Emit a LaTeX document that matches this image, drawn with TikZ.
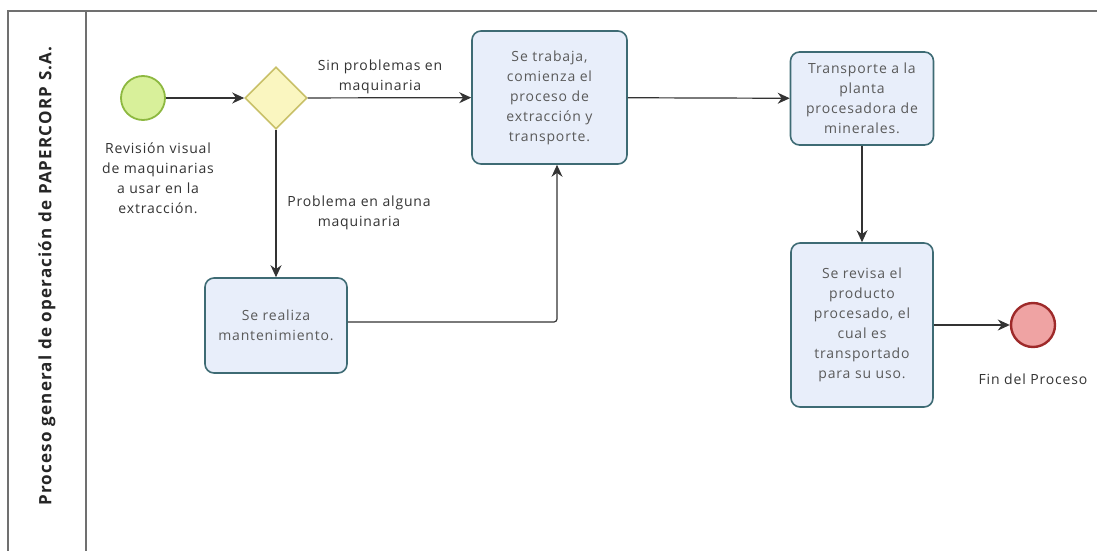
\documentclass[tikz,border=0pt]{standalone}
\usepackage{fontspec}
\setmainfont{Open Sans}
\newfontfamily\wideopen[LetterSpace=6]{Open Sans}
\newfontfamily\wideopenbold[LetterSpace=7]{Open Sans Bold}
\usetikzlibrary{shapes.geometric,arrows.meta}
\definecolor{taskfill}{HTML}{E8EEFA}
\definecolor{taskdraw}{HTML}{3E6B74}
\definecolor{taskText}{HTML}{5A5A5A}
\definecolor{lblText}{HTML}{333333}
\definecolor{startfill}{HTML}{D8F09A}
\definecolor{startdraw}{HTML}{8DB840}
\definecolor{gwfill}{HTML}{FAF6C0}
\definecolor{gwdraw}{HTML}{C9C068}
\definecolor{endfill}{HTML}{EFA3A3}
\definecolor{enddraw}{HTML}{9E2A2A}
\definecolor{poolline}{HTML}{707070}
\begin{document}
\begin{tikzpicture}[x=1pt,y=-1pt,
  task/.style={draw=taskdraw,fill=taskfill,line width=1.6pt,rounded corners=9pt,
    text=taskText,align=center,font=\wideopen\fontsize{14}{20}\selectfont,inner sep=0pt},
  lbl/.style={text=lblText,align=center,font=\wideopen\fontsize{14}{20}\selectfont,inner sep=0pt},
  flow/.style={draw=black!80,line width=1.2pt,-{Stealth[length=12pt,width=11pt]}},
  pool/.style={draw=poolline,line width=1.3pt}]
\useasboundingbox (0,0) rectangle (1097,551);
% pool
\draw[pool] (8,560) -- (8,11) -- (1100,11);
\draw[pool] (86,11) -- (86,560);
\node[rotate=90,font=\wideopenbold\fontsize{17}{20}\selectfont,text=black!85] (pooltitle) at (47,276) {Proceso general de operación de PAPERCORP S.A.};
% start
\node[circle,draw=startdraw,fill=startfill,line width=1.8pt,minimum size=44pt,inner sep=0pt] (start) at (143,98) {};
\node[lbl] (startlbl) at (158,178) {Revisión visual\\de maquinarias\\a usar en la\\extracción.};
% gateway
\node[diamond,draw=gwdraw,fill=gwfill,line width=1.6pt,minimum width=62pt,minimum height=62pt,inner sep=0pt] (gw) at (276,98) {};
% tasks
\node[task,minimum width=155pt,minimum height=133pt] (t1) at (549.5,97.5) {Se trabaja,\\comienza el\\proceso de\\extracción y\\transporte.};
\node[task,minimum width=143pt,minimum height=93pt] (t2) at (862,98.5) {Transporte a la\\planta\\procesadora de\\minerales.};
\node[task,minimum width=142pt,minimum height=95pt] (t3) at (276,325.5) {Se realiza\\mantenimiento.};
\node[task,minimum width=142pt,minimum height=164pt] (t4) at (862,325) {Se revisa el\\producto\\procesado, el\\cual es\\transportado\\para su uso.};
% end
\node[circle,draw=enddraw,fill=endfill,line width=2.4pt,minimum size=44pt,inner sep=0pt] (end) at (1033,325) {};
\node[lbl] (endlbl) at (1033,379) {Fin del Proceso};
% labels
\node[lbl] (l1) at (380,77) {Sin problemas en\\maquinaria};
\node[lbl] (l2) at (359,213) {Problema en alguna\\maquinaria};
% flows
\draw[flow] (start) -- (gw);
\draw[flow] (gw) -- (t1);
\draw[flow] (gw) -- (t3);
\draw[flow] (t1) -- (t2);
\draw[flow] (t2) -- (t4);
\draw[flow] (t4.east |- end) -- (end);
\coordinate (corner) at (557,322);
\draw[flow,rounded corners=3pt] (t3.east |- corner) -- (corner) -- (corner |- t1.south);
\end{tikzpicture}
\end{document}
